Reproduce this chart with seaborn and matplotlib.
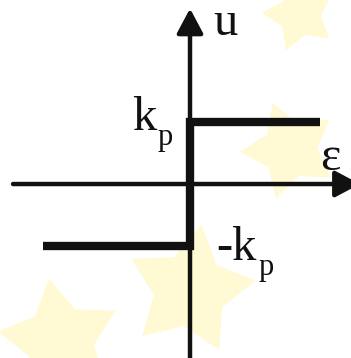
import matplotlib
matplotlib.use("Agg")
import matplotlib.pyplot as plt
from matplotlib.path import Path
import numpy as np
import seaborn as sns
import pandas as pd

# ---- data ----
eps_vals = [-2.37, 0.0, 0.0, 2.1]     # relay characteristic, input epsilon
u_vals = [-1.0, -1.0, 1.0, 1.0]       # output u (+/- k_p, k_p = 1)
main_texts = ["u", "k", "\u03b5", "-k"]
main_x = [0.37, -0.93, 2.10, 0.43]
main_y = [2.40, 0.87, 0.23, -1.23]
sub_texts = ["p", "p"]
sub_x = [-0.53, 1.11]
sub_y = [0.63, -1.47]
star_x = [1.77, 1.61, 0.0, -2.1]
star_y = [2.73, 0.55, -1.71, -2.52]
star_s = [3000, 5200, 9000, 8000]
star_ang = [15, 20, -10, 10]

sns.set_style("white")
plt.rcParams["font.family"] = ["Liberation Serif", "DejaVu Serif"]

fig = plt.figure(figsize=(3.51, 3.58), dpi=100)
ax = fig.add_axes([0, 0, 1, 1])
ax.axis("off")


def fat_star(angle_deg, inner=0.55):
    verts = []
    for i in range(10):
        r = 1.0 if i % 2 == 0 else inner
        a = np.deg2rad(90 + angle_deg + i * 36)
        verts.append((r * np.cos(a), r * np.sin(a)))
    verts.append(verts[0])
    codes = [Path.MOVETO] + [Path.LINETO] * 9 + [Path.CLOSEPOLY]
    return Path(verts, codes)


# faint watermark stars
for sx, sy, ss, sa in zip(star_x, star_y, star_s, star_ang):
    ax.scatter([sx], [sy], s=ss, marker=fat_star(sa), color="#FFFAD4",
               edgecolors="none", zorder=0)

black = "#111111"
arrow_style = "-|>,head_length=0.75,head_width=0.4"
ax.annotate("", xy=(0, 2.83), xytext=(0, -2.9), annotation_clip=False,
            arrowprops=dict(arrowstyle=arrow_style, mutation_scale=20, lw=3.2,
                            color=black, shrinkA=0, shrinkB=0), zorder=2)
ax.annotate("", xy=(2.74, 0), xytext=(-2.855, 0), annotation_clip=False,
            arrowprops=dict(arrowstyle=arrow_style, mutation_scale=20, lw=3.2,
                            color=black, shrinkA=0, shrinkB=0), zorder=2)

df = pd.DataFrame({"eps": eps_vals, "u": u_vals})
sns.lineplot(data=df, x="eps", y="u", sort=False, estimator=None, ax=ax,
             color=black, lw=6, solid_joinstyle="miter", solid_capstyle="butt",
             zorder=3)
ax.set_xlim(-3.065, 2.597)
ax.set_ylim(-2.806, 2.968)

for t, x, y in zip(main_texts, main_x, main_y):
    ax.text(x, y, t, fontsize=35, color=black, ha="left", va="baseline", zorder=4)
for t, x, y in zip(sub_texts, sub_x, sub_y):
    ax.text(x, y, t, fontsize=22, color=black, ha="left", va="baseline", zorder=4)

fig.savefig("out.png", dpi=100)
